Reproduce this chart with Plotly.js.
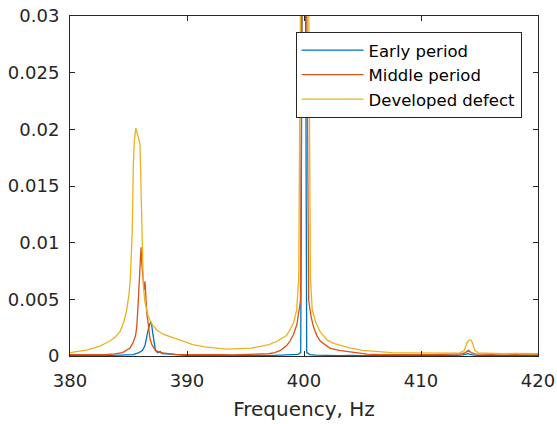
<!DOCTYPE html>
<html>
<head>
<meta charset="utf-8">
<script src="https://cdn.plot.ly/plotly-3.0.1.min.js"></script>
<style>html,body{margin:0;padding:0;background:#fff;}#chart{width:557px;height:424px;}</style>
</head>
<body>
<div id="chart"></div>
<script>
// Early period (blue)
const freqEarly = [
  380, 380.8, 381.6, 382.4, 383.2, 384.0, 384.8, 385.4, 385.9, 386.2,
  386.4, 386.55, 386.7, 386.85, 386.95, 387.05, 387.15, 387.3, 387.5, 387.7,
  387.9, 388.2, 388.6, 389.2, 390, 391, 392, 393, 394, 395,
  396, 397, 398, 399, 399.5, 399.72, 400.0, 400.23, 400.5, 401,
  402, 403, 404, 405, 406, 407, 408, 409, 410, 411,
  412, 413, 413.6, 414.0, 414.4, 415, 416, 417, 418, 419,
  420
];
const ampEarly = [
  0.00003, 0.00005, 0.00002, 0.00006, 0.00004, 0.00007, 0.0001, 0.00013, 0.0003, 0.0005,
  0.0009, 0.0017, 0.0024, 0.0029, 0.0030, 0.0022, 0.0013, 0.0005, 0.0003, 0.0004,
  0.0002, 0.00018, 0.0001, 0.00008, 0.00005, 0.00003, 0.00006, 0.00002, 0.00005, 0.00003,
  0.00006, 0.00004, 0.00007, 0.0001, 0.00015, 0.0003, 0.08, 0.0003, 0.00012, 0.00008,
  0.00005, 0.00003, 0.00006, 0.00002, 0.00005, 0.00003, 0.00006, 0.00002, 0.00005, 0.00003,
  0.00006, 0.00005, 0.0001, 0.0002, 0.0001, 0.00004, 0.00006, 0.00002, 0.00005, 0.00003,
  0.00004
];

// Middle period (orange)
const freqMiddle = [
  380, 381, 382, 383, 383.8, 384.5, 385.13, 385.4, 385.6, 385.7,
  385.82, 385.92, 386.0, 386.07, 386.15, 386.25, 386.33, 386.41, 386.48, 386.56,
  386.69, 386.84, 387.0, 387.3, 387.7, 388.3, 389, 390, 391, 392,
  393, 394, 395, 396, 397, 397.5, 398, 398.5, 398.8, 399.1,
  399.4, 399.7, 400.0, 400.4, 400.6, 400.8, 401.1, 401.4, 401.65, 402.2,
  403, 403.6, 404.5, 405.4, 406.5, 408, 409.5, 411, 412.5, 413.5,
  413.8, 414.05, 414.3, 414.6, 416, 417, 418, 419, 420
];
const ampMiddle = [
  0.00012, 0.0001, 0.00014, 0.00011, 0.00018, 0.0003, 0.0007, 0.0012, 0.0018, 0.0025,
  0.0045, 0.0067, 0.0088, 0.0096, 0.0080, 0.0062, 0.0058, 0.0066, 0.0052, 0.0038,
  0.0028, 0.0015, 0.0010, 0.0005, 0.0003, 0.0002, 0.00014, 0.00011, 0.00013, 0.0001,
  0.00012, 0.0001, 0.00014, 0.00015, 0.0002, 0.0003, 0.0005, 0.0009, 0.0013, 0.0019,
  0.0028, 0.0049, 0.07, 0.0049, 0.0035, 0.0026, 0.0018, 0.0013, 0.0011, 0.0007,
  0.0005, 0.0004, 0.00025, 0.00016, 0.00013, 0.00011, 0.00014, 0.00012, 0.00016, 0.0002,
  0.0003, 0.0005, 0.0003, 0.00018, 0.00015, 0.0002, 0.00014, 0.00018, 0.00015
];

// Developed defect (yellow)
const freqDeveloped = [
  380, 381, 381.5, 382, 382.5, 383, 383.4, 383.9, 384.3, 384.6,
  384.85, 385.05, 385.15, 385.25, 385.32, 385.41, 385.5, 385.62, 385.72, 385.84,
  385.98, 386.07, 386.18, 386.27, 386.4, 386.69, 387.0, 387.41, 388.0, 388.83,
  389.5, 390.5, 391.5, 392.5, 393.4, 394.5, 395.5, 396.3, 397.0, 397.7,
  398.5, 398.8, 399.1, 399.38, 399.55, 400.05, 400.55, 400.7, 401.0, 401.4,
  402.0, 402.6, 403.3, 404.0, 405.0, 406.0, 407.5, 409.0, 410.5, 412.0,
  413.3, 413.7, 413.9, 414.1, 414.3, 414.45, 414.6, 414.9, 416.0, 417.0,
  418.0, 419.0, 420.0
];
const ampDeveloped = [
  0.0003, 0.00045, 0.00055, 0.0007, 0.00085, 0.0011, 0.0013, 0.0017, 0.0022, 0.003,
  0.0041, 0.0055, 0.0068, 0.0092, 0.0110, 0.0167, 0.0190, 0.0201, 0.0198, 0.0193,
  0.0187, 0.0138, 0.0094, 0.0062, 0.0048, 0.0035, 0.0028, 0.0023, 0.0019, 0.0016,
  0.0013, 0.0010, 0.0008, 0.0007, 0.0006, 0.00065, 0.0007, 0.00085, 0.0010, 0.0013,
  0.0018, 0.0023, 0.0029, 0.0041, 0.007, 0.09, 0.007, 0.0041, 0.0030, 0.0021,
  0.0014, 0.0011, 0.0009, 0.0007, 0.0005, 0.0004, 0.0003, 0.00028, 0.00026, 0.00025,
  0.00026, 0.0005, 0.0011, 0.0014, 0.0014, 0.0010, 0.0005, 0.00028, 0.00022, 0.0002,
  0.00023, 0.0002, 0.0002
];

const seriesNames = ['Early period', 'Middle period', 'Developed defect'];
const xTickVals = [380, 390, 400, 410, 420];
const yTickVals = [0, 0.005, 0.01, 0.015, 0.02, 0.025, 0.03];
const yTickText = ['0', '0.005', '0.01', '0.015', '0.02', '0.025', '0.03'];

const colors = ['#0072BD', '#D95319', '#EDB120'];
const axisColor = '#262626';
const fontFam = 'DejaVu Sans, Arial, sans-serif';

const data = [
  {x: freqEarly, y: ampEarly, name: seriesNames[0]},
  {x: freqMiddle, y: ampMiddle, name: seriesNames[1]},
  {x: freqDeveloped, y: ampDeveloped, name: seriesNames[2]}
].map((t, i) => Object.assign(t, {
  type: 'scatter', mode: 'lines',
  line: {color: colors[i], width: 1.3}
}));

const axisCommon = {
  showline: true, linecolor: axisColor, linewidth: 1, mirror: 'ticks',
  ticks: 'inside', ticklen: 5, tickcolor: axisColor, tickwidth: 1,
  showgrid: false, zeroline: false,
  tickfont: {family: fontFam, size: 18, color: axisColor}
};

const layout = {
  width: 557, height: 424,
  margin: {l: 70, r: 19, t: 16, b: 68},
  paper_bgcolor: '#fff', plot_bgcolor: '#fff',
  showlegend: true,
  legend: {
    x: 0.482, y: 0.953, xanchor: 'left', yanchor: 'top',
    bgcolor: '#fff', bordercolor: axisColor, borderwidth: 1,
    font: {family: fontFam, size: 16.5, color: '#000'},
    itemwidth: 62, tracegroupgap: 0
  },
  xaxis: Object.assign({}, axisCommon, {
    range: [380, 420], tickmode: 'array', tickvals: xTickVals,
    ticklabelstandoff: 8,
    title: {text: 'Frequency, Hz', font: {family: fontFam, size: 20, color: axisColor}, standoff: 12}
  }),
  yaxis: Object.assign({}, axisCommon, {
    range: [0, 0.03], tickmode: 'array', tickvals: yTickVals, ticktext: yTickText,
    ticklabelstandoff: 6
  })
};

Plotly.newPlot('chart', data, layout, {displayModeBar: false, staticPlot: true});
</script>
</body>
</html>
